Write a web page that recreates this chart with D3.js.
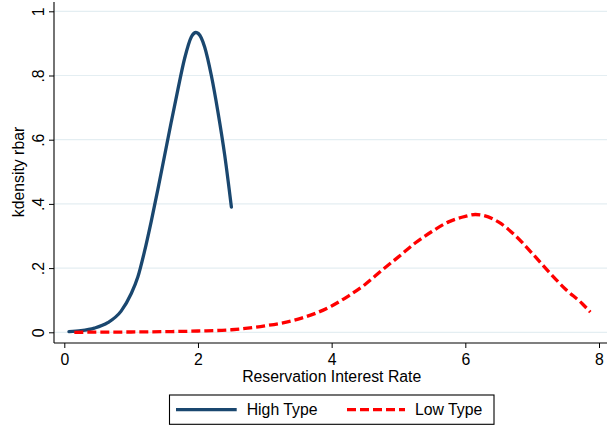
<!DOCTYPE html>
<html>
<head>
<meta charset="utf-8">
<script src="https://cdn.jsdelivr.net/npm/d3@7"></script>
<style>
  body { margin: 0; background: #fff; }
  svg { display: block; font-family: "Liberation Sans", Arial, sans-serif; }
</style>
</head>
<body>
<div id="chart"></div>
<script>
width = 607;
height = 427;

// plot frame (axis lines) and data area
frame = { left: 54, right: 607, top: 2, bottom: 343 };
area = { left: 64.3, right: 599, top: 11.3, bottom: 332.3 };

//////// Data ////////
const highX = [0.07, 0.25, 0.45, 0.65, 0.85, 1.0, 1.1, 1.2, 1.3, 1.4, 1.5, 1.6, 1.7, 1.8, 1.9, 1.97, 2.05, 2.1, 2.2, 2.3, 2.4, 2.5];
const highY = [0.002, 0.005, 0.013, 0.03, 0.066, 0.12, 0.172, 0.252, 0.345, 0.445, 0.55, 0.655, 0.757, 0.853, 0.92, 0.934, 0.917, 0.889, 0.80, 0.685, 0.552, 0.39];

const lowX = [0.15, 0.5, 1.0, 1.5, 2.0, 2.5, 3.0, 3.5, 4.0, 4.25, 4.5, 4.75, 5.0, 5.25, 5.5, 5.75, 6.0, 6.15, 6.25, 6.5, 6.75, 7.0, 7.25, 7.5, 7.75, 7.87];
const lowY = [0.0, 0.0005, 0.001, 0.002, 0.004, 0.008, 0.02, 0.041, 0.082, 0.113, 0.149, 0.193, 0.235, 0.278, 0.314, 0.344, 0.361, 0.367, 0.365, 0.343, 0.301, 0.246, 0.188, 0.134, 0.089, 0.063];

const xTicks = [0, 2, 4, 6, 8];
const yTicks = [0, 0.2, 0.4, 0.6, 0.8, 1];
const yTickLabels = ["0", ".2", ".4", ".6", ".8", "1"];

const seriesNames = ["High Type", "Low Type"];
const seriesColors = ["#1a476f", "#ff0000"];

const highData = highX.map((x, i) => ({ x: x, y: highY[i] }));
const lowData = lowX.map((x, i) => ({ x: x, y: lowY[i] }));

//////// Scales ////////
const xScale = d3.scaleLinear().domain([0, 8]).range([area.left, area.right]);
const yScale = d3.scaleLinear().domain([0, 1]).range([area.bottom, area.top]);

var svg = d3.select("#chart").append("svg")
    .attr("width", width)
    .attr("height", height);

// gridlines
svg.append("g").selectAll("line")
    .data(yTicks)
    .join("line")
    .attr("x1", frame.left)
    .attr("x2", frame.right)
    .attr("y1", d => yScale(d))
    .attr("y2", d => yScale(d))
    .attr("stroke", "#e4eef2")
    .attr("stroke-width", 1.2);

// y axis
yAxis = svg.append("g")
    .attr("transform", `translate(${frame.left},0)`)
    .call(d3.axisLeft(yScale).tickValues(yTicks)
        .tickFormat((d, i) => yTickLabels[i]).tickSize(5).tickSizeOuter(0));
yAxis.select(".domain").remove();
yAxis.selectAll("line").attr("stroke", "#000");
yAxis.selectAll("text")
    .attr("x", 0).attr("y", 0).attr("dy", 0)
    .attr("transform", "translate(-10,0) rotate(-90)")
    .style("text-anchor", "middle")
    .style("font-size", "15.8px")
    .attr("fill", "#000");

// x axis
xAxis = svg.append("g")
    .attr("transform", `translate(0,${frame.bottom})`)
    .call(d3.axisBottom(xScale).tickValues(xTicks).tickSize(5).tickSizeOuter(0));
xAxis.select(".domain").remove();
xAxis.selectAll("line").attr("stroke", "#000");
xAxis.selectAll("text")
    .attr("y", 21.5).attr("dy", 0)
    .style("font-size", "15.8px")
    .attr("fill", "#000");

// axis lines
svg.append("line")
    .attr("x1", frame.left).attr("x2", frame.left)
    .attr("y1", frame.top).attr("y2", frame.bottom)
    .attr("stroke", "#000").attr("stroke-width", 1.1);
svg.append("line")
    .attr("x1", frame.left).attr("x2", frame.right)
    .attr("y1", frame.bottom).attr("y2", frame.bottom)
    .attr("stroke", "#000").attr("stroke-width", 1.1);

// axis titles
svg.append("text")
    .attr("x", (241.7 + 421.7) / 2)
    .attr("y", 381.7)
    .attr("text-anchor", "middle")
    .style("font-size", "15.8px")
    .text("Reservation Interest Rate");

svg.append("text")
    .attr("transform", "translate(24,172) rotate(-90)")
    .attr("text-anchor", "middle")
    .style("font-size", "15.8px")
    .text("kdensity rbar");

//////// Curves ////////
const line = d3.line()
    .x(d => xScale(d.x))
    .y(d => yScale(d.y))
    .curve(d3.curveMonotoneX);

svg.append("path")
    .datum(highData)
    .attr("d", line)
    .attr("fill", "none")
    .attr("stroke", seriesColors[0])
    .attr("stroke-width", 3.3)
    .attr("stroke-linecap", "round")
    .attr("stroke-linejoin", "round");

svg.append("path")
    .datum(lowData)
    .attr("d", line)
    .attr("fill", "none")
    .attr("stroke", seriesColors[1])
    .attr("stroke-width", 3.3)
    .attr("stroke-dasharray", "9,4");

//////// Legend ////////
legend = svg.append("g");
legend.append("rect")
    .attr("x", 169.5).attr("y", 395)
    .attr("width", 324.5).attr("height", 29.3)
    .attr("fill", "#fff")
    .attr("stroke", "#000")
    .attr("stroke-width", 1.1);

const legendItems = [
    { name: seriesNames[0], color: seriesColors[0], dash: null, x1: 176, x2: 236.7, tx: 246.7 },
    { name: seriesNames[1], color: seriesColors[1], dash: "9,4", x1: 347, x2: 405, tx: 415 }
];

legendItems.forEach(d => {
    legend.append("line")
        .attr("x1", d.x1).attr("x2", d.x2)
        .attr("y1", 409.7).attr("y2", 409.7)
        .attr("stroke", d.color)
        .attr("stroke-width", 3.3)
        .attr("stroke-dasharray", d.dash);
    legend.append("text")
        .attr("x", d.tx).attr("y", 415.3)
        .style("font-size", "15.8px")
        .text(d.name);
});
</script>
</body>
</html>
